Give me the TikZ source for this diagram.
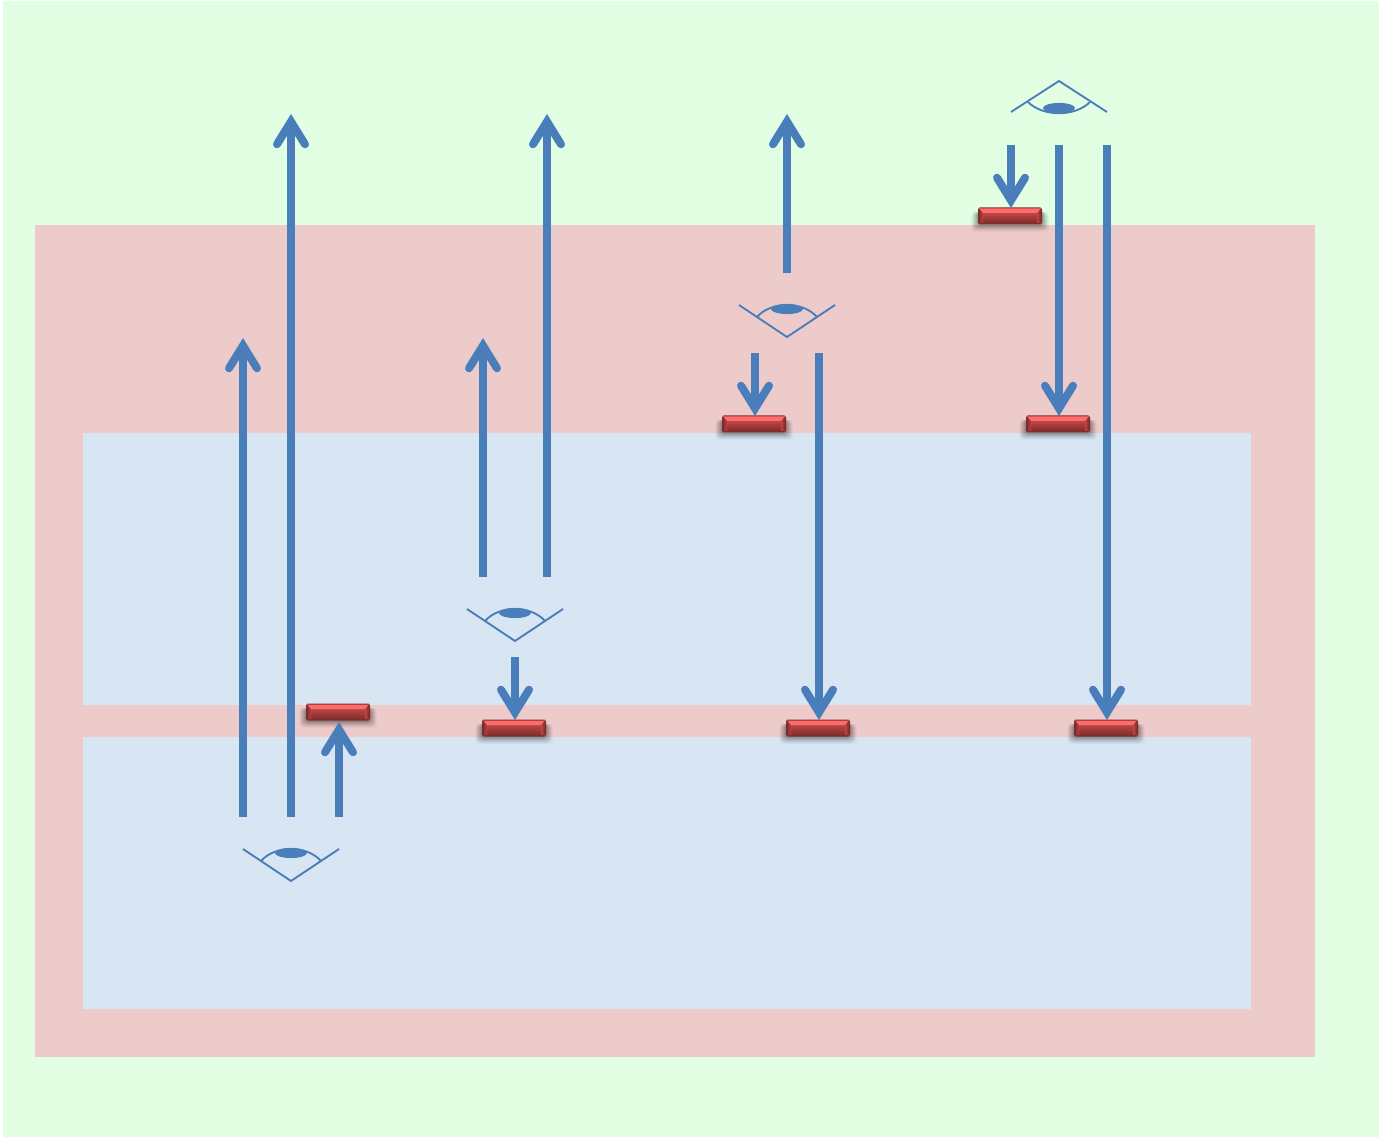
\documentclass[tikz,border=0pt]{standalone}
\usetikzlibrary{arrows.meta,shapes.geometric}
\definecolor{bggreen}{HTML}{E3FFE3}
\definecolor{bgpink}{HTML}{EECBCB}
\definecolor{bgblue}{HTML}{D8E6F4}
\definecolor{arrowblue}{HTML}{4A7EBB}
\definecolor{bardark}{HTML}{7E2C2C}
\definecolor{barmid}{HTML}{C04545}
\definecolor{barlight}{HTML}{FF6B6B}
\tikzset{
  x=0.75pt,y=-0.75pt,
  beam/.style={draw=arrowblue,line width=6pt,
    -{Straight Barb[length=17pt,width=21pt,line width=6pt,line cap=round,line join=miter]}},
  eyeline/.style={draw=arrowblue,line width=1.4pt,line join=miter},
  pupil/.style={fill=arrowblue,draw=none},
  pics/eyeup/.style={code={
    \draw[eyeline] (-48,-32) -- (0,0) -- (48,-32);
    \draw[eyeline] (-30,-20) .. controls (-16,-36) and (16,-36) .. (30,-20);
    \fill[pupil] (0,-28) ellipse [x radius=12pt,y radius=3.8pt];
  }},
  pics/eyedown/.style={code={
    \draw[eyeline] (-48,31) -- (0,0) -- (48,31);
    \draw[eyeline] (-31,21) .. controls (-16,36) and (16,36) .. (31,21);
    \fill[pupil] (0,27) ellipse [x radius=12pt,y radius=3.8pt];
  }},
  pics/barface/.style={code={
    \foreach \g/\o in {7/0.03,6/0.04,5/0.05,4/0.06,3/0.07,2/0.08,1/0.09}{
      \fill[black,opacity=\o,rounded corners=3pt] (-32-\g,-4) rectangle (32+\g,9+\g);}
    \fill[bardark,rounded corners=1.2pt] (-32,-8.5) rectangle (32,8.5);
    \shade[top color=barmid,bottom color=bardark] (-27,-3) rectangle (27,7);
    \shade[left color=bardark,right color=barmid] (-31,-7) -- (-27,-3) -- (-27,7) -- (-31,7) -- cycle;
    \shade[right color=bardark,left color=barmid] (31,-7) -- (27,-3) -- (27,7) -- (31,7) -- cycle;
    \fill[barlight] (-31,-7.5) -- (31,-7.5) -- (27,-3) -- (-27,-3) -- cycle;
  }},
}
\begin{document}
\begin{tikzpicture}
\useasboundingbox (0,0) rectangle (1379,1137);
\fill[white] (0,0) rectangle (1379,1137);
\fill[bggreen] (3,1) rectangle (1379,1137);
\fill[bgpink] (35,225) rectangle (1315,1057);
\fill[bgblue] (83,433) rectangle (1251,705);
\fill[bgblue] (83,737) rectangle (1251,1009);

% red bars
\pic at (338,712) {barface};
\pic at (514,728) {barface};
\pic at (818,728) {barface};
\pic at (1106,728) {barface};
\pic at (754,424) {barface};
\pic at (1058,424) {barface};
\pic at (1010,216) {barface};

% eyes
\pic at (291,881) {eyeup};
\pic at (515,641) {eyeup};
\pic at (787,337) {eyeup};
\pic at (1059,81) {eyedown};

% beam ends
\coordinate (a1s) at (243,817); \coordinate (a1e) at (243,338);
\coordinate (a2s) at (291,817); \coordinate (a2e) at (291,114);
\coordinate (a3s) at (339,817); \coordinate (a3e) at (339,722);
\coordinate (b1s) at (483,577); \coordinate (b1e) at (483,338);
\coordinate (b2s) at (547,577); \coordinate (b2e) at (547,114);
\coordinate (b3s) at (515,657); \coordinate (b3e) at (515,720);
\coordinate (c1s) at (787,273); \coordinate (c1e) at (787,114);
\coordinate (c2s) at (755,353); \coordinate (c2e) at (755,416);
\coordinate (c3s) at (819,353); \coordinate (c3e) at (819,720);
\coordinate (d1s) at (1011,145); \coordinate (d1e) at (1011,208);
\coordinate (d2s) at (1059,145); \coordinate (d2e) at (1059,416);
\coordinate (d3s) at (1107,145); \coordinate (d3e) at (1107,720);

\foreach \p in {a1,a2,a3,b1,b2,b3,c1,c2,c3,d1,d2,d3}{
  \draw[beam] (\p s) -- (\p e);
}
\end{tikzpicture}
\end{document}
